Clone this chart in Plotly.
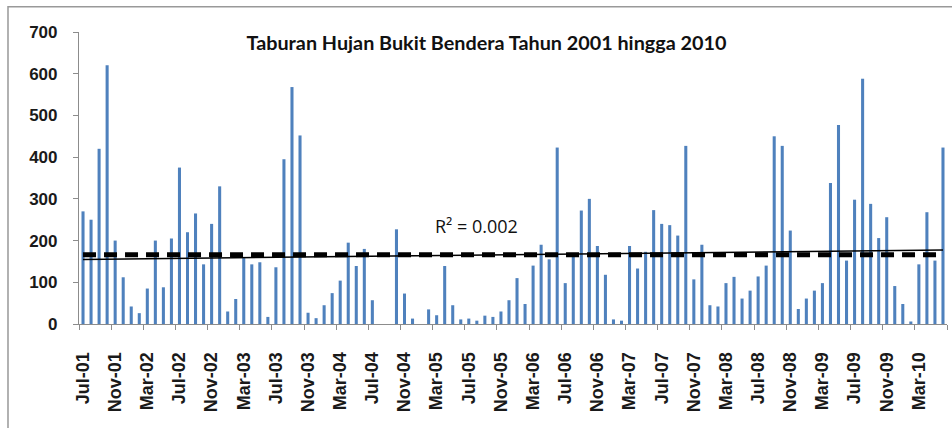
import numpy as np
import plotly.graph_objects as go

# Monthly rainfall, Bukit Bendera, Jul-2001 .. Jun-2010 (mm)
rain_2001 = [270, 250, 420, 620, 200, 112]
rain_2002 = [42, 26, 85, 200, 88, 205, 375, 220, 265, 143, 240, 330]
rain_2003 = [30, 60, 158, 143, 148, 17, 136, 395, 568, 452, 27, 14]
rain_2004 = [45, 74, 104, 195, 139, 180, 57, 0, 0, 227, 73, 13]
rain_2005 = [0, 35, 21, 139, 45, 11, 13, 8, 20, 17, 30, 57]
rain_2006 = [110, 48, 140, 190, 155, 423, 98, 163, 272, 300, 187, 118]
rain_2007 = [11, 8, 187, 133, 173, 273, 240, 237, 212, 427, 107, 190]
rain_2008 = [45, 42, 98, 113, 61, 80, 114, 140, 450, 427, 224, 36]
rain_2009 = [61, 80, 98, 338, 477, 152, 298, 588, 288, 206, 256, 91]
rain_2010 = [48, 6, 143, 268, 152, 423]

rainfall = (rain_2001 + rain_2002 + rain_2003 + rain_2004 + rain_2005 +
            rain_2006 + rain_2007 + rain_2008 + rain_2009 + rain_2010)

tick_labels = ["Jul-01", "Nov-01", "Mar-02", "Jul-02", "Nov-02", "Mar-03",
               "Jul-03", "Nov-03", "Mar-04", "Jul-04", "Nov-04", "Mar-05",
               "Jul-05", "Nov-05", "Mar-06", "Jul-06", "Nov-06", "Mar-07",
               "Jul-07", "Nov-07", "Mar-08", "Jul-08", "Nov-08", "Mar-09",
               "Jul-09", "Nov-09", "Mar-10"]
tick_step = 4

title_text = "Taburan Hujan Bukit Bendera Tahun 2001 hingga 2010"
r2_text = "R² = 0.002"

x = np.arange(len(rainfall))
coef = np.polyfit(x, rainfall, 1)
trend = np.polyval(coef, x)
mean_line = np.full(len(rainfall), np.mean(rainfall))

fig = go.Figure()
fig.add_trace(go.Bar(x=x, y=rainfall, marker_color="#4F81BD",
                     marker_line_width=0, width=0.38, showlegend=False))
fig.add_trace(go.Scatter(x=x, y=mean_line, mode="lines",
                         line=dict(color="black", width=5, dash="13px,8px"),
                         showlegend=False))
fig.add_trace(go.Scatter(x=x, y=trend, mode="lines",
                         line=dict(color="black", width=1.5),
                         showlegend=False))

fig.update_layout(
    width=952, height=428,
    margin=dict(l=79, r=5, t=32, b=104),
    paper_bgcolor="white", plot_bgcolor="white",
    title=dict(text=title_text, x=0.511, y=0.899, xref="container",
               yref="container", xanchor="center", yanchor="middle",
               font=dict(family="Lato", size=19.8, color="#111",
                         weight="bold")),
    xaxis=dict(range=[-0.5, len(rainfall) - 0.5],
               tickmode="array",
               tickvals=list(range(0, len(rainfall), tick_step)),
               ticktext=tick_labels, tickangle=-90, ticks="",
               ticklabelstandoff=20,
               tickfont=dict(family="Liberation Sans, Arial", size=18,
                             color="#1a1a1a", weight="bold"),
               showline=True, linecolor="#8c8c8c", linewidth=1.2,
               showgrid=False, zeroline=False,
               minor=dict(tickmode="linear", tick0=-0.5, dtick=tick_step,
                          ticks="outside", ticklen=5, tickcolor="#8c8c8c",
                          tickwidth=1, showgrid=False)),
    yaxis=dict(range=[0, 700], dtick=100, ticks="outside", ticklen=5,
               tickcolor="#8c8c8c", ticklabelstandoff=12,
               tickfont=dict(family="Liberation Sans, Arial", size=17,
                             color="#1a1a1a", weight="bold"),
               showline=True, linecolor="#8c8c8c",
               linewidth=1.2, showgrid=False, zeroline=False),
    bargap=0.6,
)

fig.add_annotation(text=r2_text, xref="paper", yref="paper",
                   x=0.4585, y=0.3356, showarrow=False,
                   font=dict(family="Open Sans", size=18, color="#111"))

fig.add_shape(type="rect", xref="paper", yref="paper",
              x0=-0.0818, x1=1.2, y0=-0.6, y1=1.0866,
              line=dict(color="#999999", width=1.5), layer="below")

fig.write_html("out.html", config={"displayModeBar": False},
               post_script="document.body.style.margin='0';")
